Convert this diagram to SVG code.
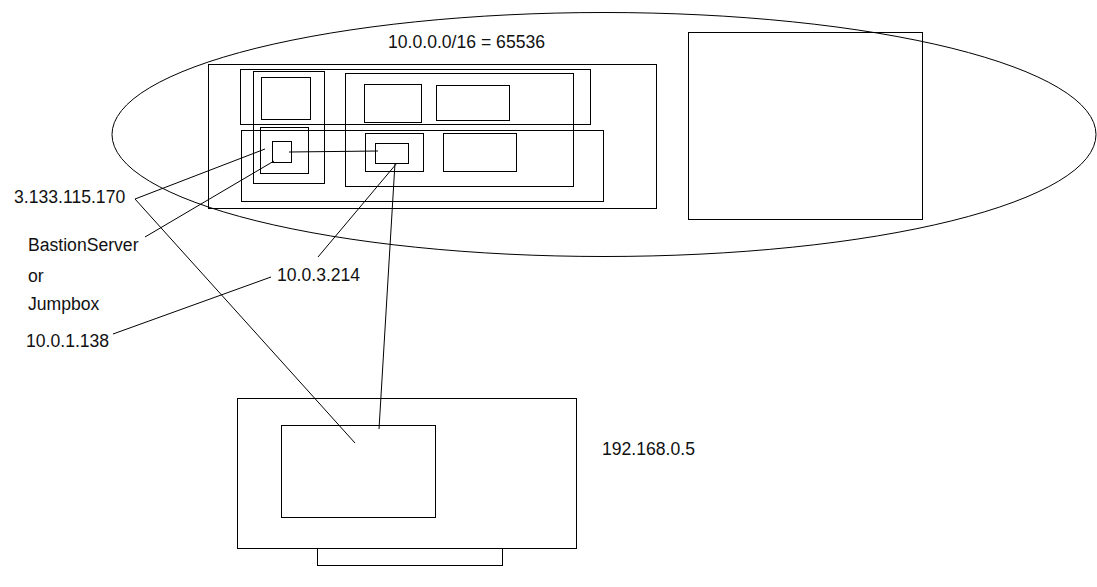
<svg xmlns="http://www.w3.org/2000/svg" width="1097" height="587" viewBox="0 0 1097 587">
<style>
.s{fill:none;stroke:#000;stroke-width:1}
.t{font-family:"Liberation Sans",Arial,sans-serif;font-size:17.6px;fill:#111}
</style>
<rect width="1097" height="587" fill="#fff"/>
<g id="vpc">
<ellipse class="s" cx="604" cy="134.5" rx="492" ry="122"/>
<text class="t" x="388" y="48">10.0.0.0/16 = 65536</text>
</g>
<g id="region-box"><rect class="s" x="208.5" y="64.5" width="448" height="144"/></g>
<g id="right-box"><rect class="s" x="688.5" y="32.5" width="234" height="187"/></g>
<g id="upper-band"><rect class="s" x="240.5" y="69.5" width="350" height="55"/></g>
<g id="lower-band"><rect class="s" x="241.5" y="130.5" width="362" height="71"/></g>
<g id="left-column"><rect class="s" x="253.5" y="71.5" width="71" height="112"/></g>
<g id="right-column"><rect class="s" x="345.5" y="73.5" width="228" height="113"/></g>
<g id="box-ul"><rect class="s" x="261.5" y="77.5" width="49" height="42"/></g>
<g id="box-um1"><rect class="s" x="364.5" y="84.5" width="57" height="38"/></g>
<g id="box-um2"><rect class="s" x="436.5" y="85.5" width="73" height="35"/></g>
<g id="bastion-subnet"><rect class="s" x="260.5" y="127.5" width="48" height="46"/></g>
<g id="bastion"><rect class="s" x="272.5" y="141.5" width="19" height="21"/></g>
<g id="private-subnet"><rect class="s" x="365.5" y="133.5" width="58" height="38"/></g>
<g id="private-host"><rect class="s" x="375.5" y="143.5" width="33" height="20"/></g>
<g id="box-lm2"><rect class="s" x="443.5" y="133.5" width="73" height="38"/></g>
<g id="laptop">
<rect class="s" x="237.5" y="398.5" width="339" height="150"/>
<rect class="s" x="281.5" y="425.5" width="154" height="92"/>
<rect class="s" x="317.5" y="548.5" width="185" height="17"/>
<text class="t" x="602" y="455">192.168.0.5</text>
</g>
<g id="labels">
<text class="t" x="14" y="203">3.133.115.170</text>
<text class="t" x="28" y="251">BastionServer</text>
<text class="t" x="28" y="282">or</text>
<text class="t" x="28" y="310">Jumpbox</text>
<text class="t" x="26" y="347">10.0.1.138</text>
<text class="t" x="277" y="281">10.0.3.214</text>
</g>
<g id="connectors" class="s">
<polyline class="s" points="265,149 135,199 355,443"/>
<line class="s" x1="145" y1="237" x2="274" y2="161"/>
<line class="s" x1="113" y1="334" x2="271" y2="277"/>
<line class="s" x1="318" y1="257" x2="397" y2="163"/>
<line class="s" x1="395" y1="163" x2="379" y2="429"/>
<line class="s" x1="289" y1="152" x2="378" y2="151"/>
</g>
</svg>
